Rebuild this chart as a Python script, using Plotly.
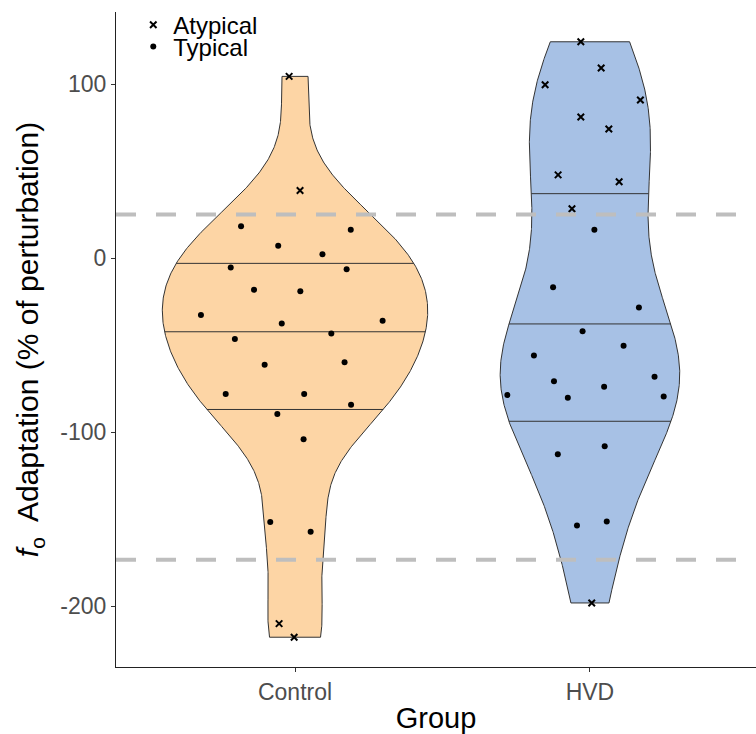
import numpy as np
import plotly.graph_objects as go

# ---------------- data ----------------
groups = ["Control", "HVD"]

control_values = [104.6, 39.0, 18.4, 16.5, 7.3, 2.3, -5.3, -6.3, -18.0, -18.9,
                  -32.5, -37.5, -35.8, -46.3, -43.2, -61.2, -59.7, -78.0, -78.0,
                  -84.2, -89.5, -104.0, -151.5, -157.2, -210.0, -217.8]
control_type = ["Atypical", "Atypical"] + ["Typical"] * 22 + ["Atypical", "Atypical"]
control_jitter = [-0.020, 0.017, -0.183, 0.189, -0.057, 0.093, -0.218, 0.175, -0.139,
                  0.018, -0.319, -0.045, 0.297, -0.204, 0.123, -0.103, 0.168, -0.235,
                  0.031, 0.190, -0.060, 0.029, -0.084, 0.053, -0.054, -0.003]

hvd_values = [124.5, 109.4, 99.8, 91.0, 81.3, 74.4, 48.0, 44.0, 28.5, 16.5, -16.6,
              -28.3, -41.9, -50.3, -55.8, -70.6, -68.1, -73.8, -78.6, -80.1, -79.4,
              -108.0, -112.6, -153.6, -151.3, -198.1]
hvd_type = ["Atypical"] * 9 + ["Typical"] * 16 + ["Atypical"]
hvd_jitter = [-0.031, 0.038, -0.152, 0.171, -0.031, 0.064, -0.108, 0.099, -0.061,
              0.015, -0.125, 0.166, -0.025, 0.114, -0.190, -0.122, 0.219, 0.048,
              -0.280, -0.075, 0.250, 0.050, -0.109, -0.044, 0.057, 0.006]

thresholds = [25.2, -173.3]
y_tick_vals = [-200, -100, 0, 100]
y_tick_text = ["-200", "-100", "0", "100"]
quantiles = [0.25, 0.5, 0.75]

fills = {"Control": "#FDD5A5", "HVD": "#A7C1E5"}
FONT = "Liberation Sans, Arial, sans-serif"

values = {"Control": np.array(control_values), "HVD": np.array(hvd_values)}
types = {"Control": control_type, "HVD": hvd_type}
jitters = {"Control": control_jitter, "HVD": hvd_jitter}


def bw_nrd0(x):
    sd = np.std(x, ddof=1)
    iqr = np.subtract(*np.percentile(x, [75, 25]))
    lo = min(sd, iqr / 1.34)
    return 0.9 * lo * len(x) ** (-0.2)


def kde(x, grid):
    bw = bw_nrd0(x)
    z = (grid[:, None] - x[None, :]) / bw
    return np.exp(-0.5 * z ** 2).sum(axis=1) / (len(x) * bw * np.sqrt(2 * np.pi))


dens = {}
for g in groups:
    v = values[g]
    grid = np.linspace(v.min(), v.max(), 512)
    dens[g] = (grid, kde(v, grid))
dmax = max(d.max() for _, d in dens.values())

fig = go.Figure()

for i, g in enumerate(groups):
    pos = i + 1
    grid, d = dens[g]
    w = 0.45 * d / dmax
    xs = np.concatenate([pos - w, (pos + w)[::-1], [pos - w[0]]])
    ys = np.concatenate([grid, grid[::-1], [grid[0]]])
    fig.add_trace(go.Scatter(x=xs, y=ys, mode="lines", fill="toself",
                             fillcolor=fills[g], line=dict(color="#333333", width=1),
                             showlegend=False, hoverinfo="skip"))
    cum = np.cumsum(d) / np.sum(d)
    qx, qy = [], []
    for q in quantiles:
        yq = np.interp(q, cum, grid)
        wq = 0.45 * np.interp(yq, grid, d) / dmax
        qx += [pos - wq, pos + wq, None]
        qy += [yq, yq, None]
    fig.add_trace(go.Scatter(x=qx, y=qy, mode="lines",
                             line=dict(color="#333333", width=1),
                             showlegend=False, hoverinfo="skip"))

for t, sym, size, lw, leg in [("Atypical", "x-thin-open", 6.5, 2, "legend"),
                              ("Typical", "circle", 6, 0, "legend2")]:
    xs, ys = [], []
    for i, g in enumerate(groups):
        for v, tt, j in zip(values[g], types[g], jitters[g]):
            if tt == t:
                xs.append(i + 1 + j)
                ys.append(v)
    fig.add_trace(go.Scatter(x=xs, y=ys, mode="markers", name=t, legend=leg,
                             marker=dict(symbol=sym, size=size, color="black",
                                         line=dict(color="black", width=lw))))

for th in thresholds:
    fig.add_shape(type="line", xref="paper", x0=0, x1=1, yref="y", y0=th, y1=th,
                  line=dict(color="#BEBEBE", width=4, dash="20px,20px"))

allv = np.concatenate([values[g] for g in groups])
span = allv.max() - allv.min()
yrange = [allv.min() - 0.05 * span, allv.max() + 0.05 * span]

fig.update_layout(
    width=756, height=734,
    margin=dict(l=116, r=0, t=12, b=67),
    paper_bgcolor="white", plot_bgcolor="white",
    font=dict(family=FONT, color="black"),
    xaxis=dict(range=[0.393, 2.563], tickvals=[1, 2], ticktext=groups,
               showgrid=False, zeroline=False, showline=True, linecolor="#222222",
               linewidth=1.2, ticks="outside", ticklen=4, tickcolor="#333333",
               tickfont=dict(size=23, color="#4D4D4D", family=FONT),
               title=dict(text="Group", font=dict(size=29, family=FONT), standoff=10)),
    yaxis=dict(range=yrange, tickvals=y_tick_vals, ticktext=y_tick_text,
               showgrid=False, zeroline=False, showline=True, linecolor="#222222",
               linewidth=1.2, ticks="outside", ticklen=4, tickcolor="#333333",
               tickfont=dict(size=23, color="#4D4D4D", family=FONT),
               title=dict(text="<i>f</i><sub>o</sub>  Adaptation (% of perturbation)",
                          font=dict(size=30, family=FONT), standoff=12)),
    legend=dict(x=0.027, y=0.980, xanchor="left", yanchor="middle",
                bgcolor="rgba(0,0,0,0)", font=dict(size=24, family=FONT, color="black")),
    legend2=dict(x=0.027, y=0.9466, xanchor="left", yanchor="middle",
                 bgcolor="rgba(0,0,0,0)", font=dict(size=24, family=FONT, color="black")),
)

fig.write_html("out.html")
